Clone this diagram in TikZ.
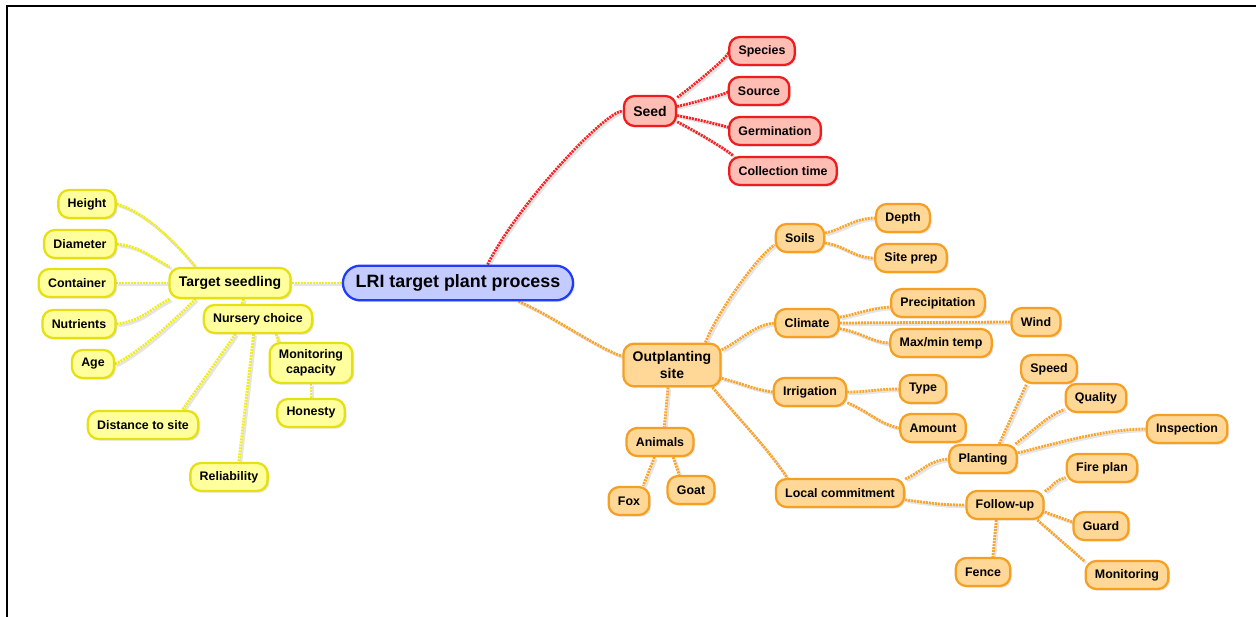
\documentclass[tikz,border=0pt]{standalone}
\usepackage{fontspec}
\setmainfont{Liberation Sans}
\usetikzlibrary{shapes.misc,shadows,backgrounds}
\definecolor{bluefill}{HTML}{C4CCFF}
\definecolor{blueline}{HTML}{1E3CFA}
\definecolor{redfill}{HTML}{FFBDB3}
\definecolor{redline}{HTML}{EE1C1C}
\definecolor{redconn}{HTML}{F42222}
\definecolor{yelfill}{HTML}{FFFF9E}
\definecolor{yelline}{HTML}{E6E010}
\definecolor{yelconn}{HTML}{F0EC20}
\definecolor{orfill}{HTML}{FFD898}
\definecolor{orline}{HTML}{F5A023}
\definecolor{orconn}{HTML}{FBA42A}
\begin{document}
\begin{tikzpicture}[x=0.75pt,y=-0.75pt,
  nd/.style={draw, line width=1.7pt, rounded corners=8pt, inner xsep=7pt, inner ysep=2pt,
    minimum height=21pt, align=center, font=\fontsize{9.3pt}{11pt}\selectfont\bfseries,
    drop shadow={shadow xshift=1.3pt, shadow yshift=-1.3pt, opacity=0.22}},
  lvlone/.style={font=\fontsize{10.5pt}{12.5pt}\selectfont\bfseries, minimum height=22.5pt},
  rednd/.style={nd, draw=redline, fill=redfill},
  yelnd/.style={nd, draw=yelline, fill=yelfill},
  ornd/.style={nd, draw=orline, fill=orfill},
  conn/.style={line width=2.1pt, dash pattern=on 1.5pt off 0.75pt,
    preaction={draw=black, draw opacity=0.1, solid, line width=2pt,
      transform canvas={xshift=1.4pt, yshift=-1.4pt}}},
  redc/.style={conn, draw=redconn},
  yelc/.style={conn, draw=yelconn},
  orc/.style={conn, draw=orconn},
]
\useasboundingbox (0,0) rectangle (1256,617);
\draw[line width=1.5pt] (7,617) -- (7,6) -- (1256,6);

% main
\node[rounded rectangle, draw=blueline, fill=bluefill, line width=1.7pt, inner xsep=8pt,
  minimum height=26pt, font=\fontsize{13.4pt}{15pt}\selectfont\bfseries,
  drop shadow={shadow xshift=1.3pt, shadow yshift=-1.3pt, opacity=0.22}]
  (main) at (458,283) {LRI target plant process};

% red
\node[rednd, lvlone] (seed) at (650,111) {Seed};
\node[rednd] (species) at (762,51) {Species};
\node[rednd] (source) at (759,91) {Source};
\node[rednd] (germ) at (775,131) {Germination};
\node[rednd] (coll) at (783,171) {Collection time};

% yellow
\node[yelnd, lvlone] (ts) at (230,283) {Target seedling};
\node[yelnd] (height) at (87,204) {Height};
\node[yelnd] (diam) at (80,244) {Diameter};
\node[yelnd] (cont) at (77,283) {Container};
\node[yelnd] (nutr) at (79,324) {Nutrients};
\node[yelnd] (age) at (93,364) {Age};
\node[yelnd] (nc) at (258,319) {Nursery choice};
\node[yelnd, minimum height=30pt] (mc) at (311,363) {Monitoring\\capacity};
\node[yelnd] (hon) at (311,413) {Honesty};
\node[yelnd] (dist) at (143,425) {Distance to site};
\node[yelnd] (rel) at (229,477) {Reliability};

% orange
\node[ornd, lvlone, minimum height=32pt, inner ysep=3pt] (op) at (672,365) {Outplanting\\site};
\node[ornd] (soils) at (800,238) {Soils};
\node[ornd] (depth) at (903,218) {Depth};
\node[ornd] (siteprep) at (911,258) {Site prep};
\node[ornd] (climate) at (807,323) {Climate};
\node[ornd] (precip) at (938,303) {Precipitation};
\node[ornd] (wind) at (1036,322) {Wind};
\node[ornd] (maxmin) at (941,343) {Max/min temp};
\node[ornd] (irr) at (810,392) {Irrigation};
\node[ornd] (type) at (923,389) {Type};
\node[ornd] (amount) at (933,428) {Amount};
\node[ornd] (animals) at (660,442) {Animals};
\node[ornd] (fox) at (629,501) {Fox};
\node[ornd] (goat) at (691,490) {Goat};
\node[ornd] (lc) at (840,493) {Local commitment};
\node[ornd] (planting) at (983,459) {Planting};
\node[ornd] (speed) at (1049,369) {Speed};
\node[ornd] (quality) at (1096,398) {Quality};
\node[ornd] (insp) at (1187,429) {Inspection};
\node[ornd] (fire) at (1102,468) {Fire plan};
\node[ornd] (fu) at (1005,505) {Follow-up};
\node[ornd] (guard) at (1101,526) {Guard};
\node[ornd] (fence) at (983,572) {Fence};
\node[ornd] (monit) at (1127,575) {Monitoring};

\begin{scope}[on background layer]
% red connectors
\draw[redc] (main.32) .. controls +(30,-60) and +(-45,0) .. (seed);
\draw[redc] (seed) .. controls +(30,-15) and +(-25,0) .. (species);
\draw[redc] (seed) .. controls +(30,-5) and +(-20,0) .. (source);
\draw[redc] (seed) .. controls +(30,5) and +(-20,0) .. (germ);
\draw[redc] (seed) .. controls +(30,12) and +(-15,-12) .. (coll.163);
% yellow connectors
\draw[yelc] (main) -- (ts);
\draw[yelc] (height.east) .. controls +(30,9) and +(-20,-24) .. (ts.155);
\draw[yelc] (diam.east) .. controls +(25,3) and +(-20,-10) .. (ts.165);
\draw[yelc] (cont.east) -- (ts.west);
\draw[yelc] (nutr.east) .. controls +(25,-3) and +(-20,10) .. (ts.195);
\draw[yelc] (age.east) .. controls +(25,-12) and +(-20,20) .. (ts.205);
\draw[yelc] (ts.-50) -- (nc.137);
\draw[yelc] (nc.-40) -- (mc.147);
\draw[yelc] (mc) -- (hon);
\draw[yelc] (nc.-146) -- (dist.21);
\draw[yelc] (nc.-106) -- (rel.57);
% orange connectors
\draw[orc] (main.-17) .. controls +(30,12) and +(-25,-8) .. (op.170);
\draw[orc] (op.34) .. controls +(12,-30) and +(-18,12) .. (soils.195);
\draw[orc] (op.17) .. controls +(20,-10) and +(-20,2) .. (climate.west);
\draw[orc] (op.-15) .. controls +(20,5) and +(-20,-3) .. (irr.west);
\draw[orc] (op.-29) .. controls +(25,30) and +(-20,-30) .. (lc.164);
\draw[orc] (op.-100) -- (animals.74);
\draw[orc] (animals.-110) -- (fox.47);
\draw[orc] (animals.-49) -- (goat.128);
\draw[orc] (soils.11) .. controls +(20,-5) and +(-20,0) .. (depth.west);
\draw[orc] (soils.-11) .. controls +(20,3) and +(-20,0) .. (siteprep.west);
\draw[orc] (climate.10) .. controls +(20,-4) and +(-15,0) .. (precip.185);
\draw[orc] (climate.east) -- (wind.west);
\draw[orc] (climate.-10) .. controls +(20,3) and +(-15,0) .. (maxmin.west);
\draw[orc] (irr.east) .. controls +(20,0) and +(-20,0) .. (type.west);
\draw[orc] (irr.-16) .. controls +(20,8) and +(-20,-4) .. (amount.west);
\draw[orc] (lc.12) .. controls +(20,-10) and +(-20,2) .. (planting.west);
\draw[orc] (lc.-6) .. controls +(25,3) and +(-25,0) .. (fu.west);
\draw[orc] (planting.43) -- (speed.-146);
\draw[orc] (planting.25) .. controls +(20,-15) and +(-15,5) .. (quality.200);
\draw[orc] (planting.10) .. controls +(40,-10) and +(-40,0) .. (insp.west);
\draw[orc] (fu.19) .. controls +(12,-8) and +(-12,3) .. (fire.195);
\draw[orc] (fu.-10) -- (guard.172);
\draw[orc] (fu.-120) -- (fence.57);
\draw[orc] (fu.-25) -- (monit.162);
\end{scope}
\end{tikzpicture}
\end{document}
